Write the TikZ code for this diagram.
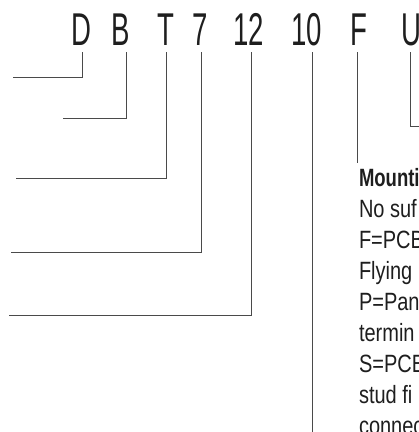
\documentclass[tikz,border=0pt]{standalone}
\usepackage{fontspec}
\setmainfont{Liberation Sans}
\newfontfamily\codefont[FakeStretch=0.6]{Liberation Sans}
\newfontfamily\notefont[FakeStretch=0.8, BoldFeatures={FakeStretch=0.74}]{Liberation Sans}
\usetikzlibrary{positioning}
\definecolor{leadgray}{HTML}{4A4A4A}
\definecolor{inkgray}{HTML}{1E1E1E}
\tikzset{
  code/.style={inner sep=0pt, outer sep=0pt, anchor=base, text=inkgray, font=\codefont\fontsize{46}{46}\selectfont},
  lead/.style={line width=0.8pt, leadgray},
  note/.style={inner sep=0pt, outer sep=0pt, anchor=base west, text=inkgray, font=\notefont\fontsize{25}{25}\selectfont}
}
\begin{document}
\begin{tikzpicture}[x=1pt,y=-1pt]
  \useasboundingbox (0,0) rectangle (419,432);
  \clip (0,0) rectangle (419,432);

  % part number
  \node[code] (cD) at (81,45) {D};
  \node[code] (cB) at (121,45) {B};
  \node[code] (cT) at (165.5,45) {T};
  \node[code] (c7) at (200,45) {7};
  \node[code] (c12) at (249,45) {12};
  \node[code] (c10) at (307,45) {10};
  \node[code] (cF) at (359,45) {F};
  \node[code] (cU) at (411.5,45) {U};

  % free ends of the leaders
  \coordinate (eD) at (13,77);
  \coordinate (eB) at (63,118);
  \coordinate (eT) at (16,178);
  \coordinate (e7) at (11,252);
  \coordinate (e12) at (9,315);
  \coordinate (e10) at (312.5,440);
  \coordinate (eF) at (357.7,163);
  \coordinate (eU) at (430,126);

  \draw[lead] (cD.base) ++(1.7,7) |- (eD);
  \draw[lead] (cB.base) ++(5.7,7) |- (eB);
  \draw[lead] (cT.base) ++(0.5,7) |- (eT);
  \draw[lead] (c7.base) ++(1,7) |- (e7);
  \draw[lead] (c12.base) ++(2.7,7) |- (e12);
  \draw[lead] (c10.base) ++(5.5,7) -- (e10);
  \draw[lead] (cF.base) ++(-1.3,7) -- (eF);
  \draw[lead] (cU.base) ++(-0.8,7) |- (eU);

  % mounting options
  \node[note, font=\notefont\bfseries\fontsize{25}{25}\selectfont] (n0) at (359,186) {Mounti};
  \foreach \t [count=\i] in {No suf, F=PCB, Flying, P=Pan, termin, S=PCB, stud fi, connec}
    \node[note] (n\i) at (359,186+31*\i) {\t};
\end{tikzpicture}
\end{document}
